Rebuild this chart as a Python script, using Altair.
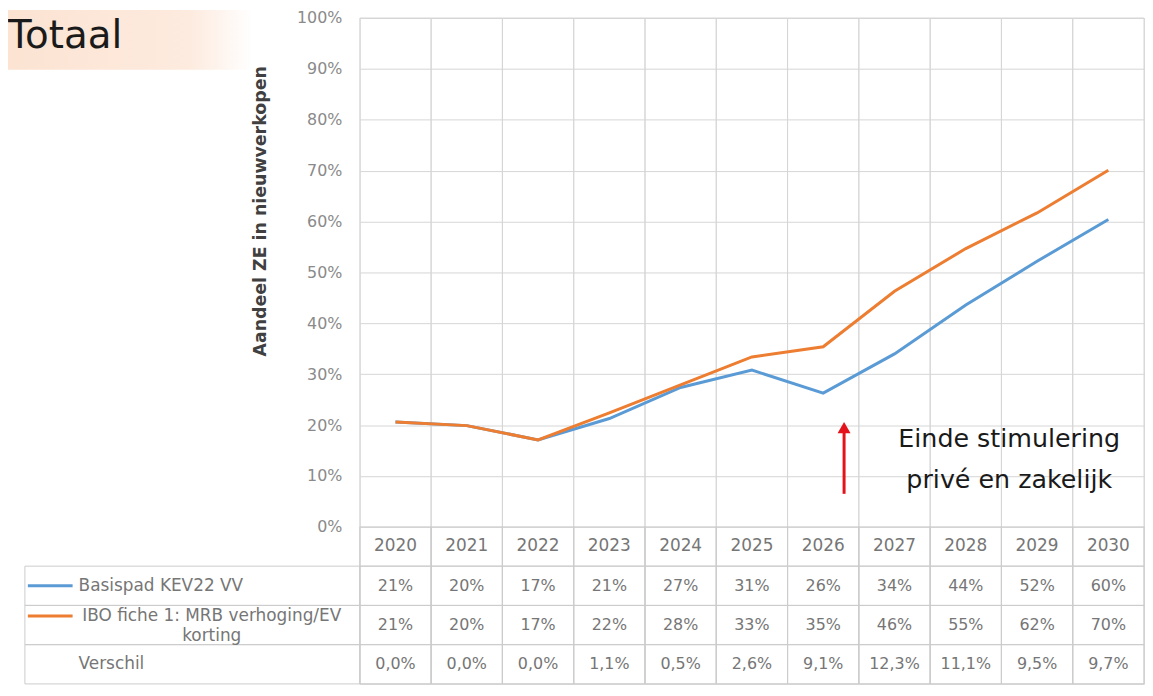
import altair as alt
import pandas as pd

# ---------------- data ----------------
years = ["2020", "2021", "2022", "2023", "2024", "2025", "2026", "2027", "2028", "2029", "2030"]
series = ["Basispad KEV22 VV", "IBO fiche 1: MRB verhoging/EV korting"]
series_colors = ["#5B9BD5", "#ED7D31"]
basispad = [0.206, 0.199, 0.171, 0.213, 0.274, 0.308, 0.263, 0.340, 0.436, 0.522, 0.604]
ibo = [0.206, 0.199, 0.171, 0.224, 0.279, 0.334, 0.354, 0.463, 0.547, 0.617, 0.701]
basispad_tabel = ["21%", "20%", "17%", "21%", "27%", "31%", "26%", "34%", "44%", "52%", "60%"]
ibo_tabel = ["21%", "20%", "17%", "22%", "28%", "33%", "35%", "46%", "55%", "62%", "70%"]
verschil_tabel = ["0,0%", "0,0%", "0,0%", "1,1%", "0,5%", "2,6%", "9,1%", "12,3%", "11,1%", "9,5%", "9,7%"]
y_ticks = [0.0, 0.1, 0.2, 0.3, 0.4, 0.5, 0.6, 0.7, 0.8, 0.9, 1.0]
row_keys = ["Jaar", "Basispad KEV22 VV", "IBO fiche 1: MRB verhoging/EV korting", "Verschil"]
row_labels = ["", "Basispad KEV22 VV", "IBO fiche 1: MRB verhoging/EV\nkorting", "Verschil"]
title_text = "Totaal"
y_title = "Aandeel ZE in nieuwverkopen"
annotation_lines = ["Einde stimulering", "privé en zakelijk"]
annotation_levels = [0.172, 0.092]
annotation_year = "2029"
arrow_year = "2026"
arrow_from = 0.065
arrow_to = 0.195

# ---------------- layout ----------------
W = 789
PLOT_H = 512
H = 670
GRID = "#d6d6d6"
TXT = "#767676"
FONT = "DejaVu Sans"

line_df = pd.DataFrame({
    "jaar": years + years,
    "reeks": [series[0]] * len(years) + [series[1]] * len(years),
    "aandeel": basispad + ibo,
})
table_texts = [years, basispad_tabel, ibo_tabel, verschil_tabel]
table_df = pd.DataFrame([
    {"rij": row_keys[r], "jaar": years[i], "tekst": table_texts[r][i]}
    for r in range(len(row_keys)) for i in range(len(years))
])
header_df = pd.DataFrame({"rij": row_keys[1:], "label": row_labels[1:]})
symbol_df = pd.DataFrame({"rij": series, "reeks": series})
arrow_df = pd.DataFrame({"jaar": [arrow_year], "van": [arrow_from], "tot": [arrow_to]})
ann_df = pd.DataFrame({"jaar": [annotation_year] * 2, "tekst": annotation_lines, "niveau": annotation_levels})
title_df = pd.DataFrame({"titel": [title_text]})
col_df = pd.DataFrame({"jaar": years})

x_scale = alt.Scale(type="band", domain=years, paddingInner=0, paddingOuter=0)
x_axis = alt.Axis(title=None, labels=False, ticks=False, domain=False, grid=False)


def X(center=True):
    if center:
        return alt.X("jaar:N", scale=x_scale, axis=x_axis, bandPosition=0.5)
    return alt.X("jaar:N", scale=x_scale, axis=x_axis)


y_scale = alt.Scale(domain=[0, 1], range=[PLOT_H, 0], nice=False)
t_scale = alt.Scale(type="band", domain=row_keys, range=[PLOT_H, H], paddingInner=0, paddingOuter=0)


def T(center=True):
    if center:
        return alt.Y("rij:N", scale=t_scale, axis=None, bandPosition=0.5)
    return alt.Y("rij:N", scale=t_scale, axis=None)


color_enc = alt.Color("reeks:N", scale=alt.Scale(domain=series, range=series_colors), legend=None)

bg = alt.Chart(title_df).mark_rect(
    color=alt.Gradient(
        gradient="linear",
        stops=[alt.GradientStop(color="#FCE3D2", offset=0),
               alt.GradientStop(color="#FDEBDF", offset=0.75),
               alt.GradientStop(color="#FFFFFF", offset=1)],
        x1=0, x2=1, y1=0, y2=0,
    )
).encode(x=alt.value(-354), x2=alt.value(-108), y=alt.value(-8), y2=alt.value(52))

title = alt.Chart(title_df).mark_text(
    align="left", baseline="middle", fontSize=39, color="#1a1a1a", font=FONT
).encode(x=alt.value(-354), y=alt.value(18), text="titel:N")

# vertical column borders over the whole plot + table height
cols = alt.Chart(col_df).mark_rect(fillOpacity=0, stroke=GRID, strokeWidth=1).encode(
    x=X(False), y=alt.value(0), y2=alt.value(H)
)

cells = alt.Chart(table_df).mark_rect(fillOpacity=0, stroke="#cccccc", strokeWidth=1).encode(
    x=X(False), y=T(False)
)
hdr_cells = alt.Chart(header_df).mark_rect(fillOpacity=0, stroke="#cccccc", strokeWidth=1).encode(
    x=alt.value(-337), x2=alt.value(0), y=T(False)
)

lines = alt.Chart(line_df).mark_line(strokeWidth=3).encode(
    x=X(),
    y=alt.Y("aandeel:Q", scale=y_scale, axis=alt.Axis(
        values=y_ticks, format=".0%", grid=True, gridColor=GRID, ticks=False, domain=False,
        labelPadding=18, labelColor="#8a8a8a", labelFontSize=16, labelFont=FONT,
        title=y_title, titleFont=FONT, titleFontSize=17.5, titleFontWeight="bold",
        titleColor="#404040", titleX=-100, titleY=194, titleAngle=270,
        titleAlign="center", titleBaseline="middle")),
    color=color_enc,
)

texts = alt.Chart(table_df).mark_text(color=TXT, font=FONT).encode(
    x=X(), y=T(), text="tekst:N",
    size=alt.condition(alt.datum.rij == row_keys[0], alt.value(17), alt.value(16)),
)

hdr_left = alt.Chart(header_df).transform_filter(alt.datum.rij != row_keys[2]).mark_text(
    align="left", fontSize=17, color=TXT, font=FONT
).encode(x=alt.value(-283), y=T(), text="label:N")

hdr_ibo = alt.Chart(header_df).transform_filter(alt.datum.rij == row_keys[2]).mark_text(
    align="center", fontSize=17, color=TXT, font=FONT, lineBreak="\n", lineHeight=20, yOffset=-9
).encode(x=alt.value(-149), y=T(), text="label:N")

sym1 = alt.Chart(symbol_df).transform_filter(alt.datum.rij == series[0]).mark_rule(strokeWidth=3).encode(
    x=alt.value(-334), x2=alt.value(-289), y=T(), color=color_enc
)
sym2 = alt.Chart(symbol_df).transform_filter(alt.datum.rij == series[1]).mark_rule(
    strokeWidth=3, yOffset=-9
).encode(x=alt.value(-334), x2=alt.value(-289), y=T(), color=color_enc)

arrow = alt.Chart(arrow_df).mark_rule(color="#E3121B", strokeWidth=3, xOffset=21).encode(
    x=X(), y=alt.Y("van:Q", scale=y_scale, axis=None), y2="tot:Q"
)
head = alt.Chart(arrow_df).mark_point(
    shape="triangle-up", filled=True, size=170, color="#E3121B", opacity=1, xOffset=21
).encode(x=X(), y=alt.Y("tot:Q", scale=y_scale, axis=None))

ann = alt.Chart(ann_df).mark_text(fontSize=25.5, color="#1a1a1a", font=FONT, xOffset=-28).encode(
    x=X(), y=alt.Y("niveau:Q", scale=y_scale, axis=None), text="tekst:N"
)

chart = alt.layer(
    bg, title, cols, cells, hdr_cells, lines, texts, hdr_left, hdr_ibo, sym1, sym2, arrow, head, ann
).resolve_scale(y="independent").properties(
    width=W, height=H, padding=0
).configure_view(stroke="#cccccc", strokeWidth=1).configure(font=FONT)

chart.save("out.html", embed_options={"renderer": "svg", "actions": False})
